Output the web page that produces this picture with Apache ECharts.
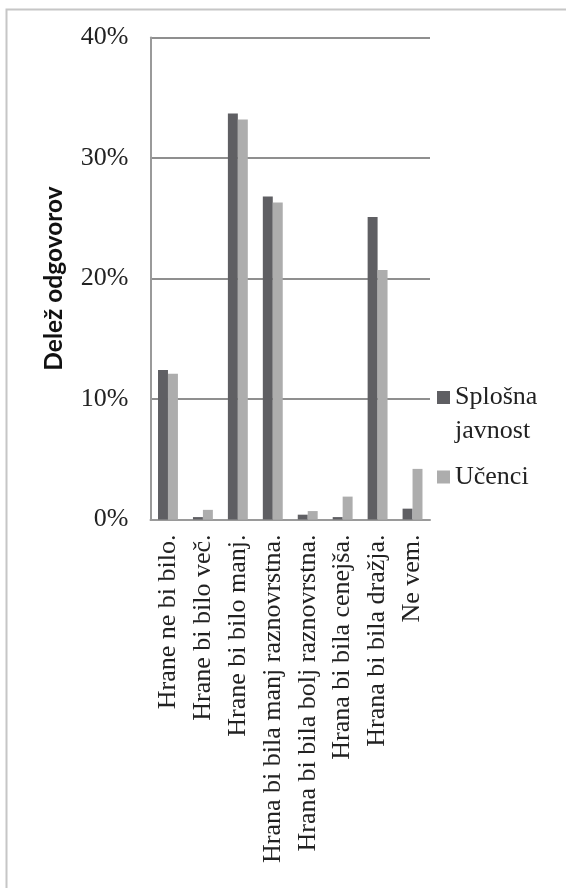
<!DOCTYPE html>
<html>
<head>
<meta charset="utf-8">
<script src="https://cdn.jsdelivr.net/npm/echarts@6/dist/echarts.min.js"></script>
<style>
  html, body { margin: 0; padding: 0; background: #fff; }
  #chart { width: 566px; height: 888px; }
</style>
</head>
<body>
<div id="chart"></div>
<script>
// Possible answers (categories on the x axis)
const categories = [
  'Hrane ne bi bilo.',
  'Hrane bi bilo več.',
  'Hrane bi bilo manj.',
  'Hrana bi bila manj raznovrstna.',
  'Hrana bi bila bolj raznovrstna.',
  'Hrana bi bila cenejša.',
  'Hrana bi bila dražja.',
  'Ne vem.'
];

// Share of answers, in percent
const splosnaJavnost = [12.4, 0.2, 33.7, 26.8, 0.4, 0.2, 25.1, 0.9];
const ucenci = [12.1, 0.8, 33.2, 26.3, 0.7, 1.9, 20.7, 4.2];

const seriesNames = ['Splošna javnost', 'Učenci'];
const yTicks = { min: 0, max: 40, interval: 10 };

const serif = '"Liberation Serif", "Times New Roman", serif';

// Legend markers: a 13px square inside a 13x47 box, so the square lines up
// with the first text line (two-line entry) or the only line (one-line entry).
const iconTop = 'path://M0,0L13,0L13,13L0,13Z M0,47L0.01,47';
const iconMid = 'path://M0,17L13,17L13,30L0,30Z M0,0L0.01,0 M0,47L0.01,47';

const chart = echarts.init(document.getElementById('chart'));

chart.setOption({
  animation: false,
  backgroundColor: '#ffffff',
  grid: { left: 150.5, right: 136, top: 37.5, bottom: 368.5, containLabel: false },
  graphic: [{
    type: 'rect',
    left: 4, top: 7,
    shape: { width: 620, height: 920 },
    style: { fill: 'none', stroke: '#c6c6c6', lineWidth: 2 },
    silent: true
  }],
  legend: {
    orient: 'vertical',
    left: 437,
    top: 380.5,
    padding: 0,
    itemWidth: 13,
    itemHeight: 47,
    itemGap: 5,
    data: [
      { name: seriesNames[0], icon: iconTop },
      { name: seriesNames[1], icon: iconMid }
    ],
    formatter: name => name.replace(' ', '\n'),
    textStyle: {
      fontFamily: serif,
      fontSize: 26,
      color: '#222',
      lineHeight: 34
    }
  },
  xAxis: {
    type: 'category',
    data: categories,
    axisLine: { show: true, lineStyle: { color: '#9a9a9a', width: 2 } },
    axisTick: { show: false },
    axisLabel: {
      interval: 0,
      rotate: 90,
      margin: 15,
      fontFamily: serif,
      fontSize: 26,
      color: '#222'
    }
  },
  yAxis: {
    type: 'value',
    min: yTicks.min,
    max: yTicks.max,
    interval: yTicks.interval,
    name: 'Delež odgovorov',
    nameLocation: 'middle',
    nameRotate: 90,
    nameGap: 84,
    nameTextStyle: {
      fontFamily: 'Lato, "Open Sans", sans-serif',
      fontWeight: 'bold',
      fontSize: 24.5,
      color: '#111'
    },
    axisLine: { show: true, lineStyle: { color: '#9a9a9a', width: 2 } },
    axisTick: { show: false },
    splitLine: { show: true, lineStyle: { color: '#8f8f8f', width: 2 } },
    axisLabel: {
      margin: 22,
      fontFamily: serif,
      fontSize: 26,
      color: '#222',
      formatter: v => v + '%'
    }
  },
  series: [
    {
      name: seriesNames[0],
      type: 'bar',
      data: splosnaJavnost,
      barGap: '0%',
      barCategoryGap: '43%',
      itemStyle: { color: '#5f5f63' }
    },
    {
      name: seriesNames[1],
      type: 'bar',
      data: ucenci,
      itemStyle: { color: '#adadad' }
    }
  ]
});
</script>
</body>
</html>
